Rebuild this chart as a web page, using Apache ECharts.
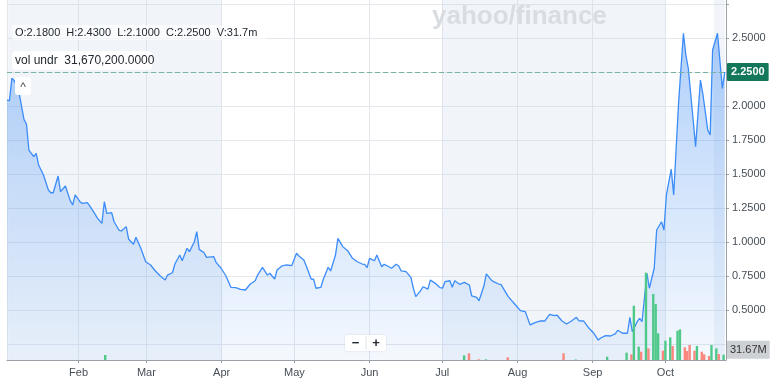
<!DOCTYPE html>
<html><head><meta charset="utf-8">
<script src="https://cdn.jsdelivr.net/npm/echarts@6/dist/echarts.min.js"></script>
<style>html,body{margin:0;padding:0;background:#fff}#c{width:779px;height:380px}</style>
</head><body><div id="c"></div>
<script>
const YEAR = 2023;
// day-of-year offsets (0 = Jan 1) and closing prices
const priceDays = [2,3,4,5,7,9,10,11,13,14,15,17,19,20,21,23,24,26,28,29,30,32,33,35,36,38,39,41,42,43,45,46,48,49,51,52,54,55,57,59,61,63,65,67,68,70,71,73,74,76,77,79,80,81,83,84,87,88,90,92,94,96,98,100,102,104,105,107,109,110,112,113,115,117,119,121,122,124,125,127,128,129,131,132,134,135,137,138,140,142,144,146,148,149,150,151,153,154,156,157,159,160,162,163,164,166,168,169,170,172,173,175,176,178,180,181,182,184,185,186,188,190,192,193,195,196,198,199,201,202,204,205,208,211,213,215,217,219,221,223,225,227,228,230,232,234,236,237,239,241,243,245,246,248,250,252,253,255,257,258,259,261,262,263,265,266,268,269,271,272,273,275,276,278,280,281,282,284,285,287,288,290,291,292,294,296,297];
const priceValues = [2.044,2.04,2.204,2.186,2.093,1.90,1.868,1.676,1.627,1.652,1.566,1.493,1.382,1.362,1.362,1.485,1.37,1.412,1.304,1.272,1.346,1.296,1.284,1.289,1.265,1.211,1.179,1.137,1.296,1.211,1.216,1.149,1.088,1.081,1.113,1.02,0.983,1.035,0.954,0.855,0.831,0.787,0.75,0.721,0.757,0.774,0.838,0.904,0.862,0.954,0.929,1.002,1.076,0.946,0.921,0.887,0.892,0.848,0.807,0.75,0.667,0.664,0.652,0.647,0.691,0.715,0.757,0.814,0.757,0.77,0.728,0.794,0.824,0.831,0.826,0.917,0.897,0.868,0.824,0.728,0.726,0.66,0.667,0.726,0.814,0.787,0.904,1.027,0.966,0.936,0.88,0.855,0.838,0.836,0.811,0.88,0.862,0.904,0.818,0.836,0.818,0.807,0.836,0.824,0.787,0.782,0.74,0.66,0.598,0.642,0.671,0.654,0.721,0.696,0.664,0.66,0.708,0.715,0.667,0.715,0.689,0.703,0.684,0.603,0.593,0.568,0.676,0.765,0.721,0.708,0.691,0.689,0.598,0.537,0.495,0.488,0.39,0.407,0.419,0.419,0.468,0.458,0.463,0.421,0.397,0.419,0.446,0.421,0.419,0.37,0.333,0.279,0.294,0.311,0.309,0.324,0.351,0.329,0.329,0.446,0.341,0.414,0.439,0.414,0.77,0.66,0.807,1.088,1.149,1.088,1.346,1.535,1.346,2.02,2.535,2.375,2.277,1.897,1.701,2.191,2.088,1.824,1.787,2.412,2.535,2.13,2.25];
// volume (millions) and direction (1 = up / green, 0 = down / red)
const volumeDays = [42,190,192,196,199,208,231,236,249,257,259,260,262,263,265,266,268,269,270,272,273,275,276,278,279,281,282,283,285,286,288,289,291,292,294,295,297];
const volumeValues = [30,28,40,4,4,16,40,3,20,44,34,326,80,50,524,70,396,336,160,56,116,136,84,176,184,76,54,90,56,84,50,34,24,90,70,36,31.67];
const volumeUp = [1,1,0,0,1,0,0,1,1,1,0,1,1,0,1,0,1,1,1,0,1,1,0,1,1,0,0,0,0,1,0,0,0,1,1,0,1];
const monthLabels = ['Jan','Feb','Mar','Apr','May','Jun','Jul','Aug','Sep','Oct','Nov','Dec'];
const shadedBands = [[2,90],[181,273],[293,297.5]];
const axisRangeDays = [2,297.5];
const lastPrice = 2.25, lastPriceLabel = '2.2500';
const lastVolume = 31.67, lastVolumeLabel = '31.67M';
const ohlcText = 'O:2.1800  H:2.4300  L:2.1000  C:2.2500  V:31.7m';
const volText = 'vol undr  31,670,200.0000';
const priceFloor = 0.1324;

const DAY = 86400000;
const t0 = new Date(YEAR,0,1).getTime();
const dayToTime = d => t0 + d*DAY;
const FONT = "'Liberation Sans', Arial, sans-serif";
const GRID = '#e4e7ec';
const AX = '#9aa0a6';
const TXT = '#464e56';

const priceData = priceDays.map((d,i)=>[dayToTime(d), priceValues[i]]);
const volData = volumeDays.map((d,i)=>({value:[dayToTime(d), volumeValues[i]], itemStyle:{color: volumeUp[i] ? '#4fc98a' : '#fa877d'}}));

const chart = echarts.init(document.getElementById('c'), null, {renderer:'canvas'});
chart.setOption({
  animation:false,
  backgroundColor:'#fff',
  grid:[{left:7,right:53,top:4,bottom:2},{left:7,right:53,top:0,bottom:20}],
  xAxis:[
    {type:'time', gridIndex:0, min:dayToTime(axisRangeDays[0]), max:dayToTime(axisRangeDays[1]), show:false},
    {type:'time', gridIndex:1, min:dayToTime(axisRangeDays[0]), max:dayToTime(axisRangeDays[1]), splitNumber:10,
      axisLine:{show:true, lineStyle:{color:AX}},
      axisTick:{show:true, length:3, lineStyle:{color:AX}},
      axisLabel:{showMinLabel:false, showMaxLabel:false, color:TXT, fontSize:11, fontFamily:FONT, margin:7,
        formatter:v=>monthLabels[new Date(v).getMonth()]},
      splitLine:{show:true, lineStyle:{color:GRID}}}
  ],
  yAxis:[
    {type:'value', gridIndex:0, position:'right', min:0, max:2.75, interval:0.25,
      axisLine:{show:false}, axisTick:{show:true, length:3, lineStyle:{color:AX}},
      axisLabel:{color:TXT, fontSize:11, fontFamily:FONT, margin:6,
        formatter:v=> (v>0.4 && v<2.6) ? v.toFixed(4) : ''},
      splitLine:{show:true, showMinLine:false, lineStyle:{color:GRID}}},
    {type:'value', gridIndex:1, position:'right', min:0, max:2160,
      axisLine:{show:true, lineStyle:{color:AX}}, axisTick:{show:false}, axisLabel:{show:false}, splitLine:{show:false}}
  ],
  series:[
    {type:'line', xAxisIndex:1, yAxisIndex:1, z:1, silent:true, symbol:'none', data:[[dayToTime(2),0]], lineStyle:{width:0},
      markArea:{silent:true, itemStyle:{color:'rgba(205,218,236,0.28)'}, data: shadedBands.map(b=>[{xAxis:dayToTime(b[0])},{xAxis:dayToTime(b[1])}])}},
    {type:'line', xAxisIndex:0, yAxisIndex:0, z:2, symbol:'none', data:priceData,
      lineStyle:{color:'#3b8cf8', width:1.3},
      areaStyle:{origin:priceFloor, color:{type:'linear', x:0, y:0, x2:0, y2:360, global:true,
        colorStops:[{offset:0,color:'rgba(40,125,240,0.58)'},{offset:0.5,color:'rgba(40,125,240,0.3)'},{offset:1,color:'rgba(40,125,240,0.07)'}]}},
      markLine:{silent:true, symbol:'none', animation:false,
        lineStyle:{type:[5,3], color:'#78b4a2', width:1},
        label:{position:'end', distance:1, formatter:lastPriceLabel, color:'#fff', backgroundColor:'#12775b', padding:[4,4,3,4], fontSize:11, fontWeight:'bold', fontFamily:FONT, borderRadius:1},
        data:[{yAxis:lastPrice}]}},
    {type:'bar', xAxisIndex:1, yAxisIndex:1, z:3, barWidth:2.4, data:volData,
      markLine:{silent:true, symbol:'none', animation:false, lineStyle:{color:'rgba(0,0,0,0)', width:0},
        label:{show:true, position:'end', distance:1, formatter:lastVolumeLabel, color:'#333', backgroundColor:'#cdd1d6', padding:[4,3,3,3], fontSize:11, fontFamily:FONT, offset:[0,-5]},
        data:[{yAxis:lastVolume}]}}
  ],
  graphic:[
    {type:'text', left:432, top:4, z:5, silent:true, style:{text:'yahoo/finance', fill:'#d9dce1', font:"bold 26px "+FONT}},
    {type:'rect', z:10, shape:{x:12,y:25,width:254,height:15,r:3}, style:{fill:'rgba(255,255,255,0.6)'}},
    {type:'text', z:11, x:15, y:32.5, style:{text:ohlcText, fill:'#232a31', font:"11px "+FONT, textVerticalAlign:'middle'}},
    {type:'rect', z:10, shape:{x:12,y:51,width:140,height:19,r:4}, style:{fill:'#fff'}},
    {type:'text', z:11, x:15, y:60.5, style:{text:volText, fill:'#232a31', font:"12px "+FONT, textVerticalAlign:'middle'}},
    {type:'rect', z:10, shape:{x:15,y:77,width:16,height:18,r:3}, style:{fill:'#fff'}},
    {type:'text', z:11, x:23, y:88, style:{text:'^', fill:TXT, font:"12px "+FONT, textAlign:'center', textVerticalAlign:'middle'}},
    {type:'rect', z:10, shape:{x:345,y:335,width:41,height:16,r:2}, style:{fill:'#fff', shadowBlur:2, shadowColor:'rgba(0,0,0,0.15)'}},
    {type:'line', z:11, shape:{x1:366,y1:336,x2:366,y2:350}, style:{stroke:'#e0e3e7'}},
    {type:'text', z:11, x:355.5, y:343, style:{text:'−', fill:'#232a31', font:"bold 13px "+FONT, textAlign:'center', textVerticalAlign:'middle'}},
    {type:'text', z:11, x:376, y:343, style:{text:'+', fill:'#232a31', font:"bold 13px "+FONT, textAlign:'center', textVerticalAlign:'middle'}},
    {type:'rect', z:20, silent:true, shape:{x:723,y:374,width:10,height:6}, style:{fill:'#fff'}}
  ]
});
</script></body></html>
